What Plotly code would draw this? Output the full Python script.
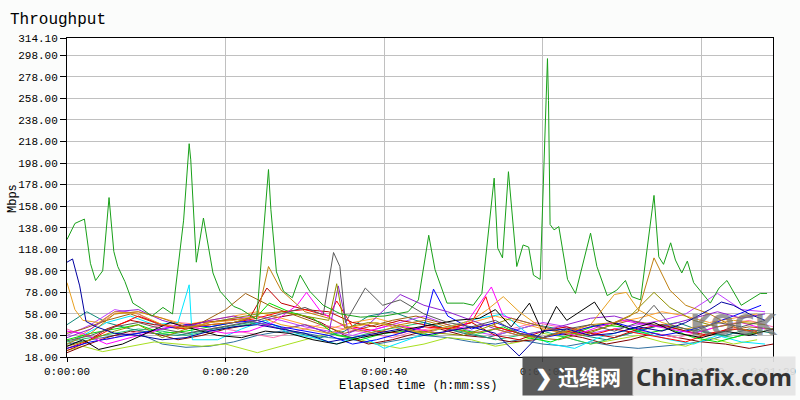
import plotly.graph_objects as go

# ---------------- data ----------------
green_t = [0, 1.0, 2.2, 2.95, 3.6, 4.5, 5.3, 5.9, 6.4, 7.3, 8.3, 9.4, 10.7, 12.1, 13.3, 14.7, 15.4, 15.6, 16.3,
           17.2, 18.4, 19.3, 21.0, 22.0, 23.9, 25.4, 25.7, 26.4, 27.3, 28.4, 29.4, 30.6, 32.3, 34.5, 37, 40, 43,
           44.3, 45.6, 46.4, 47.9, 50.0, 51.2, 52.3, 53.85, 54.3, 54.9, 55.65, 56.7, 57.5, 58.2, 58.8, 59.65,
           60.3, 60.57, 60.7, 60.82, 60.9, 61.4, 62.0, 63.1, 64.1, 66.0, 66.8, 68.1, 69.3, 70.4, 71.2, 72.3,
           74.0, 74.6, 75.2, 76.1, 76.7, 77.5, 78.2, 79.0, 81.1, 82.2, 83.2, 85.0, 87.4, 88.25]
green_v = [127, 142, 146, 105, 89, 98, 166, 116, 102, 88, 68, 63, 56, 64, 58, 145, 216, 201, 106,
           147, 96, 79, 65, 62, 53, 192, 155, 97, 79, 73, 94, 79, 66, 58, 55, 56, 60,
           71, 131, 99, 68, 68, 66, 77, 184, 119, 110, 190, 102, 122, 120, 94, 90,
           222, 295, 256, 179, 141, 136, 139, 90, 77, 133, 102, 75, 80, 89, 74, 71,
           168, 111, 104, 124, 108, 96, 107, 87, 68, 82, 89, 66, 77, 77]

navy_t = [0, 0.7, 1.6, 2.4, 3.7, 6, 9, 12, 15, 18, 21, 24, 27, 30, 33, 36, 39, 42, 45, 48, 51, 54, 57,
          60, 63, 66, 69, 72, 75, 78, 81, 82.5, 84, 86, 88]
navy_v = [106, 109, 84, 51, 46, 40, 38, 34, 36, 42, 46, 48, 44, 40, 32, 36, 40, 44, 38, 42, 46, 40, 19,
          42, 44, 38, 40, 46, 42, 50, 62, 69, 66, 58, 52]

gold_t = [0, 1, 2, 4, 6, 9, 12, 15, 18, 21, 24, 27, 30, 33, 36, 39, 42, 45, 48, 51, 53, 55, 57, 60, 63,
          66, 69, 70.5, 72, 75, 78, 81, 84, 87]
gold_v = [87, 62, 52, 50, 60, 58, 48, 45, 50, 52, 56, 48, 44, 40, 46, 50, 44, 40, 46, 52, 62, 74, 60, 44, 40,
          48, 76, 78, 62, 50, 44, 48, 52, 50]

amber_t = [0, 3, 6, 9, 12, 15, 18, 21, 24, 25.4, 27, 30, 33, 36, 39, 42, 45, 48, 51, 54, 57, 60, 63, 66,
           69, 72, 74, 76, 78, 81, 84, 87]
amber_v = [30, 40, 58, 60, 54, 46, 48, 50, 56, 102, 80, 60, 54, 44, 40, 48, 52, 46, 40, 44, 38, 36, 42, 48,
           50, 60, 110, 80, 66, 58, 46, 40]

gray_t = [0, 3, 6, 9, 12, 15, 18, 21, 24, 27, 30, 32.3, 33.6, 34.4, 35.1, 37.6, 39.8, 42, 45, 48, 51, 54,
          57, 60, 63, 66, 69, 72, 74, 76, 79, 82, 85, 88]
gray_v = [33, 38, 46, 50, 44, 40, 44, 48, 52, 58, 64, 57, 115, 102, 50, 82, 66, 71, 58, 50, 46, 52,
          40, 36, 44, 48, 42, 50, 66, 48, 42, 50, 46, 52]

olive_t = [0, 3, 6, 9, 12, 15, 18, 21, 24, 27, 30, 33, 34, 35, 38, 41, 44, 47, 50, 53, 56, 59, 62, 65,
           68, 71, 74, 76, 79, 82, 85, 88]
olive_v = [28, 34, 42, 48, 36, 44, 50, 54, 58, 60, 56, 52, 86, 45, 50, 48, 42, 40, 38, 46, 54, 48, 42, 38,
           46, 56, 78, 64, 52, 46, 50, 48]

purple_t = [0, 3, 6, 9, 12, 15, 18, 21, 24, 27, 30, 33, 34.2, 35.5, 38, 42, 45, 48, 51, 54, 57, 60, 63,
            66, 69, 72, 75, 78, 82, 85, 88]
purple_v = [36, 44, 60, 62, 52, 46, 52, 56, 50, 44, 48, 40, 84, 40, 48, 76, 66, 60, 52, 44, 38, 42, 48,
            54, 56, 50, 46, 52, 60, 54, 58]

cyan_t = [0, 2, 5, 8, 11, 14, 15.4, 15.8, 19, 22, 25, 28, 31, 34, 37, 40, 43, 46, 49, 52, 55, 58, 61, 64,
          67, 70, 73, 76, 79, 82, 85, 88]
cyan_v = [30, 38, 50, 56, 48, 50, 85, 34, 34, 44, 52, 40, 36, 30, 38, 26, 34, 42, 48, 54, 58, 40, 30, 26,
          36, 42, 40, 34, 30, 38, 32, 30]

brown_t = [0, 2, 5, 8, 11, 14, 17, 20, 22.5, 26, 29, 32, 35, 38, 41, 44, 47, 50, 53, 56, 59, 62, 65, 68,
           71, 74, 77, 80, 83, 86, 89]
brown_v = [40, 44, 52, 58, 50, 44, 50, 62, 77, 64, 56, 48, 40, 46, 52, 56, 50, 44, 48, 42, 36, 34, 40, 46,
           52, 48, 44, 38, 42, 46, 44]

darkred_t = [0, 2, 5, 8, 11, 14, 17, 20, 23, 25.2, 27, 30, 33, 36, 39, 42, 45, 48, 51, 54, 57, 60, 63,
             66, 69, 72, 75, 78, 81, 84, 87]
darkred_v = [24, 30, 44, 52, 48, 46, 50, 52, 54, 82, 68, 62, 60, 50, 46, 52, 48, 44, 50, 38, 34, 42, 46,
             40, 36, 44, 48, 42, 38, 46, 40]

red_t = [0, 3, 6, 9, 12, 15, 18, 21, 24, 27, 30, 33, 34, 36, 39, 42, 45, 48, 51, 52.8, 54, 57, 60, 63,
         66, 69, 72, 75, 78, 81, 84, 87]
red_v = [26, 34, 46, 56, 48, 44, 48, 50, 54, 60, 62, 56, 70, 46, 42, 40, 46, 44, 50, 74, 46, 40, 36, 42,
         38, 44, 40, 36, 32, 40, 44, 42]

lime_t = [0, 3, 6, 9, 12, 15, 18, 21, 24, 25.5, 28, 31, 34, 37, 40, 43, 46, 49, 52, 55, 58, 61, 64, 67,
          70, 73, 76, 79, 82, 85, 88]
lime_v = [34, 40, 44, 48, 40, 42, 46, 50, 56, 68, 60, 54, 38, 34, 40, 42, 38, 44, 40, 46, 36, 32, 40, 48,
          46, 40, 44, 36, 32, 38, 42]

magenta_t = [0, 2, 5, 8, 11, 14, 17, 20, 23, 26, 29, 30.2, 32, 35, 38, 41, 44, 47, 50, 53.5, 55, 58, 61,
             64, 67, 70, 73, 76, 79, 82, 85, 88]
magenta_v = [42, 40, 30, 36, 42, 48, 44, 40, 42, 50, 66, 78, 60, 46, 42, 48, 44, 40, 46, 83, 56, 50, 44,
             38, 46, 52, 48, 44, 40, 46, 50, 44]

black_t = [0, 2, 4, 7, 10, 13, 16, 19, 22, 25, 28, 31, 34, 37, 40, 43, 46, 49, 52, 54, 56, 58.3, 60,
           61.7, 63, 66.5, 68, 71, 74, 77, 80, 83, 86, 89]
black_v = [28, 34, 25, 30, 40, 50, 44, 38, 36, 42, 40, 34, 30, 36, 40, 44, 48, 52, 54, 62, 46, 68, 40,
           65, 52, 69, 52, 44, 50, 40, 36, 42, 38, 44]

blue_t = [0, 3, 6, 9, 12, 15, 18, 21, 24, 27, 30, 33, 36, 39, 42, 45, 46.2, 48, 51, 54, 57, 60, 63, 66,
          69, 72, 75, 78, 81, 84, 87.5]
blue_v = [26, 32, 36, 40, 44, 48, 46, 50, 52, 46, 42, 38, 30, 34, 40, 46, 81, 56, 44, 50, 42, 36, 40, 46,
          50, 44, 38, 42, 48, 56, 66]

teal_t = [0, 2.5, 5, 8, 11, 14, 17, 20, 23, 26, 29, 32, 35, 38, 41, 44, 47, 50, 53, 56, 59, 62, 65, 68,
          71, 74, 77, 80, 83, 86, 89]
teal_v = [48, 60, 50, 44, 40, 38, 42, 46, 50, 48, 40, 36, 42, 56, 60, 52, 46, 40, 36, 42, 48, 44, 38, 34,
          40, 46, 50, 42, 38, 44, 40]

steel_t = [0, 3, 6, 9, 12, 15, 18, 21, 24, 27, 30, 33, 36, 39, 42, 45, 48, 51, 54, 57, 60, 63, 66, 69,
           72, 75, 78, 81, 84, 87]
steel_v = [30, 34, 38, 40, 30, 27, 28, 32, 38, 42, 40, 36, 34, 30, 34, 38, 36, 32, 30, 34, 30, 28, 32, 28,
           26, 28, 30, 34, 40, 38]

ygreen_t = [0, 2, 4.5, 8, 11, 14, 17, 20, 24, 27, 30, 33, 36, 39, 42, 45, 48, 51, 54, 57, 60, 63, 66,
            69, 72, 75, 78, 81, 84, 87]
ygreen_v = [24, 28, 23, 28, 32, 30, 28, 30, 22, 28, 34, 40, 36, 30, 26, 30, 36, 34, 28, 32, 40, 36, 30,
            34, 38, 32, 28, 36, 30, 34]

sea_t = [0, 3, 6, 9, 12, 15, 18, 21, 24, 27, 30, 33, 36, 39, 42, 45, 48, 51, 54, 57, 60, 63, 66, 69, 72,
         75, 78, 81, 84, 87]
sea_v = [32, 36, 40, 44, 42, 38, 42, 46, 50, 44, 48, 40, 36, 42, 46, 50, 44, 40, 34, 38, 42, 36, 30, 36,
         42, 48, 44, 40, 36, 42]

violet_t = [0, 3, 6, 9, 12, 15, 18, 21, 24, 27, 30, 33, 36, 39, 42, 45, 48, 51, 54, 57, 60, 63, 66, 69,
            72, 75, 78, 82, 85, 88]
violet_v = [38, 48, 62, 58, 46, 44, 50, 54, 56, 52, 46, 42, 38, 44, 50, 56, 48, 42, 38, 44, 50, 46, 40,
            44, 48, 52, 58, 77, 62, 60]

maroon_t = [0, 2, 5, 8, 11, 14, 17, 20, 23, 26, 29, 32, 35, 38, 41, 44, 47, 50, 53, 56, 59, 62, 65, 68,
            71, 74, 77, 80, 83, 86, 89]
maroon_v = [22, 28, 36, 42, 40, 34, 38, 44, 48, 54, 58, 50, 38, 30, 34, 40, 44, 38, 36, 32, 34, 40, 36,
            30, 34, 40, 36, 32, 30, 26, 30]

pink_t = [0, 2, 5, 8, 11, 14, 17, 20, 23, 26, 29, 32, 35, 38, 41, 44, 47, 50, 53, 56, 59, 62, 65, 68,
          71, 74, 77, 80, 83, 86, 89]
pink_v = [44, 38, 34, 40, 46, 50, 48, 44, 40, 36, 42, 48, 44, 40, 36, 42, 46, 40, 36, 44, 50, 46, 42, 38,
          44, 40, 36, 42, 48, 52, 46]

orange_t = [0, 3, 6, 9, 12, 15, 18, 21, 24, 27, 30, 33, 36, 39, 42, 45, 48, 51, 54, 57, 60, 63, 66, 69,
            72, 75, 78, 81, 84, 87]
orange_v = [30, 44, 58, 60, 54, 48, 52, 56, 60, 54, 48, 44, 50, 54, 48, 42, 46, 50, 56, 50, 44, 40, 46,
            50, 54, 60, 56, 50, 54, 58]

y_ticks = [18, 38, 58, 78, 98, 118, 138, 158, 178, 198, 218, 238, 258, 278, 298, 314.10]
x_ticks = [0, 20, 40, 60, 80, 89]
x_tick_text = ["0:00:00", "0:00:20", "0:00:40", "0:01:00", "0:01:20", "0:01:29"]

series = [
    (steel_t, steel_v, "#2f6f9f"), (ygreen_t, ygreen_v, "#a8e020"), (maroon_t, maroon_v, "#800000"),
    (pink_t, pink_v, "#ff70b0"), (sea_t, sea_v, "#20c070"), (teal_t, teal_v, "#108878"),
    (orange_t, orange_v, "#ffa030"), (violet_t, violet_v, "#c040ff"), (brown_t, brown_v, "#a06010"),
    (cyan_t, cyan_v, "#00e8ff"), (lime_t, lime_v, "#00e000"), (darkred_t, darkred_v, "#c00000"),
    (red_t, red_v, "#ff0000"), (blue_t, blue_v, "#0000ff"), (magenta_t, magenta_v, "#ff00ff"),
    (purple_t, purple_v, "#9020d0"), (olive_t, olive_v, "#909000"), (black_t, black_v, "#000000"),
    (gold_t, gold_v, "#e8a020"), (amber_t, amber_v, "#c08010"), (gray_t, gray_v, "#5a5a5a"),
    (navy_t, navy_v, "#0000a0"), (green_t, green_v, "#18a018"),
]

FONT = "Liberation Mono"
L, R, T, B = 67, 27, 38, 43
PW, PH = 800 - L - R, 400 - T - B


def px(x):
    return (x - L) / PW


def py(y):
    return (400 - B - y) / PH


fig = go.Figure()
for t, v, c in series:
    fig.add_trace(go.Scatter(x=t, y=v, mode="lines", line=dict(color=c, width=1),
                             hoverinfo="skip", showlegend=False))

fig.update_layout(
    width=800, height=400,
    margin=dict(l=L, r=R, t=T, b=B, autoexpand=False),
    paper_bgcolor="#fbfcfb", plot_bgcolor="#ffffff",
    title=dict(text="Throughput", x=10 / 800, xanchor="left", y=1 - 18 / 400, yanchor="middle",
               font=dict(family=FONT, size=16, color="#000000")),
    font=dict(family=FONT, size=11, color="#000000"),
    showlegend=False,
)
fig.update_xaxes(
    range=[0, 89], tickvals=x_ticks, ticktext=x_tick_text, automargin=False,
    showgrid=True, gridcolor="#c0c0c0", gridwidth=1,
    showline=True, linecolor="#000000", linewidth=1, mirror=True,
    ticks="outside", ticklen=4, tickcolor="#000000", zeroline=False,
    tickfont=dict(family=FONT, size=11),
)
fig.update_yaxes(
    range=[18, 314.1], tickvals=y_ticks, ticktext=["%.2f" % v for v in y_ticks], automargin=False,
    showgrid=True, gridcolor="#c0c0c0", gridwidth=1,
    showline=True, linecolor="#000000", linewidth=1, mirror=True,
    ticks="outside", ticklen=6, tickcolor="#000000", zeroline=False,
    tickfont=dict(family=FONT, size=11),
)

# axis titles
fig.add_annotation(xref="paper", yref="paper", x=px(418), y=py(386), xanchor="center", yanchor="middle",
                   text="Elapsed time (h:mm:ss)", showarrow=False, font=dict(family=FONT, size=12))
fig.add_annotation(xref="paper", yref="paper", x=px(13), y=py(199), xanchor="center", yanchor="middle",
                   text="Mbps", textangle=-90, showarrow=False, font=dict(family=FONT, size=12))

# watermark overlay (present in the reference image)
fig.add_annotation(xref="paper", yref="paper", x=px(578), y=py(376), xanchor="center", yanchor="middle",
                   text="<b>❯ 迅维网</b>", showarrow=False, width=110, height=38, align="center",
                   bgcolor="rgba(72,72,72,0.9)", borderpad=0,
                   font=dict(family="Noto Sans CJK SC", size=21, color="#ffffff"))
fig.add_annotation(xref="paper", yref="paper", x=px(714), y=py(376), xanchor="center", yanchor="middle",
                   text="<b>Chinafix.com</b>", showarrow=False, width=162, height=38, align="center",
                   bgcolor="rgba(228,228,228,0.92)", borderpad=0,
                   font=dict(family="Noto Sans", size=24, color="#333333"))
fig.add_annotation(xref="paper", yref="paper", x=px(734), y=py(325), xanchor="center", yanchor="middle",
                   text="<b>KOCK</b>", showarrow=False,
                   font=dict(family="DejaVu Sans", size=28, color="rgba(110,110,110,0.7)"))

fig.write_html("out.html", config={"displayModeBar": False},
               post_script="document.body.style.margin='0';")
